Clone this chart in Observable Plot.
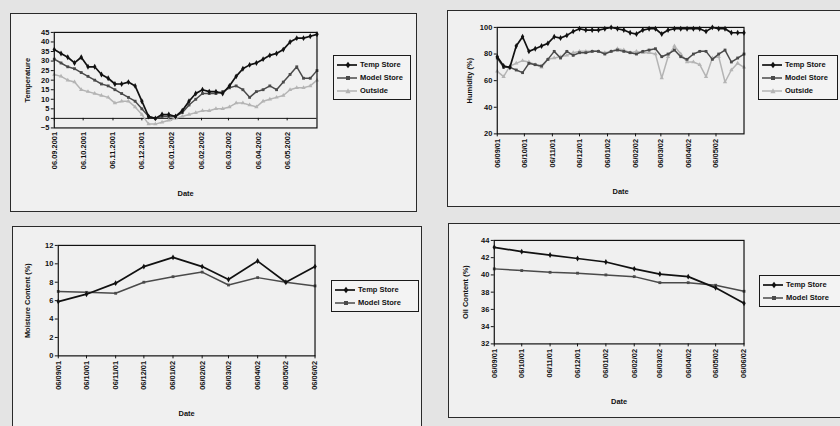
<!DOCTYPE html>
<html><head><meta charset="utf-8">
<script src="https://cdn.jsdelivr.net/npm/d3@7"></script>
<script src="https://cdn.jsdelivr.net/npm/@observablehq/plot@0.6"></script>
<style>
body{margin:0;background:#e6e6e6;}
#wrap{position:relative;width:840px;height:426px;overflow:hidden;background:#e4e4e4;font-family:"Liberation Sans",Arial,sans-serif;}
.panel{position:absolute;border:1.3px solid #2a2a2a;background:#f0f0f0;box-sizing:border-box;}
.panel svg.chart{position:absolute;left:0;top:0;}
.legend{position:absolute;border:1px solid #1a1a1a;background:#f3f3f3;box-sizing:border-box;font-size:7.5px;color:#111;font-weight:bold;}
.legend .row{display:flex;align-items:center;height:13px;padding-left:3px;}
.legend .row span{margin-left:3px;white-space:nowrap;}
</style></head>
<body><div id="wrap"></div>
<script>
// ---------- data ----------
const weekDates = ["2001-09-06","2001-09-13","2001-09-20","2001-09-27","2001-10-04","2001-10-11","2001-10-18","2001-10-25",
 "2001-11-01","2001-11-08","2001-11-15","2001-11-22","2001-11-29","2001-12-06","2001-12-13","2001-12-20","2001-12-27",
 "2002-01-03","2002-01-10","2002-01-17","2002-01-24","2002-01-31","2002-02-07","2002-02-14","2002-02-21","2002-02-28",
 "2002-03-07","2002-03-14","2002-03-21","2002-03-28","2002-04-04","2002-04-11","2002-04-18","2002-04-25",
 "2002-05-02","2002-05-09","2002-05-16","2002-05-23","2002-05-30","2002-06-06"];
const monthDates = ["2001-09-06","2001-10-06","2001-11-06","2001-12-06","2002-01-06","2002-02-06","2002-03-06","2002-04-06","2002-05-06","2002-06-06"];

const seriesNames = ["Temp Store","Model Store","Outside"];

// Panel 1: temperature
const tempTemp    = [36,34,32,29,32,27,27,23,21,18,18,19,17,9,1,0,2,2,1,4,9,13,15,14,14,13,17,22,26,28,29,31,33,34,36,40,42,42,43,44];
const tempModel   = [31,29,27,26,24,22,20,18,17,15,13,11,9,5,1,0,1,1,1,3,7,10,13,13,13,14,16,17,15,11,14,15,17,15,19,23,27,21,21,25];
const tempOutside = [23,22,20,19,15,14,13,12,11,8,9,9,6,2,-3,-3,-2,-1,0,1,2,3,4,4,5,5,6,8,8,7,6,9,10,11,12,15,16,16,17,20];
const tempTickDates = monthDates.slice(0,9);
const tempTickLabels = ["06.09.2001","06.10.2001","06.11.2001","06.12.2001","06.01.2002","06.02.2002","06.03.2002","06.04.2002","06.05.2002"];
const tempYTicks = [-5,0,5,10,15,20,25,30,35,40,45];

// Panel 2: humidity
const humTemp    = [78,71,70,86,93,82,84,86,88,93,92,94,97,99,98,98,98,99,100,99,98,96,95,98,99,99,95,98,99,99,99,99,99,97,100,99,99,96,96,96];
const humModel   = [77,70,70,68,66,73,72,71,76,82,77,82,79,81,81,82,82,80,82,83,82,81,80,82,83,84,78,80,83,78,76,80,82,82,76,80,83,74,77,80];
const humOutside = [67,63,71,73,75,74,72,70,76,77,78,79,81,82,82,82,82,81,82,84,83,81,82,81,81,80,62,78,86,80,74,74,72,63,77,78,59,68,73,70];
const humTickDates = monthDates.slice(0,9);
const humTickLabels = ["06/09/01","06/10/01","06/11/01","06/12/01","06/01/02","06/02/02","06/03/02","06/04/02","06/05/02"];
const humYTicks = [20,40,60,80,100];

// Panel 3: moisture content
const moistTemp  = [5.9,6.7,7.9,9.7,10.7,9.7,8.3,10.3,8.0,9.7];
const moistModel = [7.0,6.9,6.8,8.0,8.6,9.1,7.7,8.5,8.0,7.6];
const monthTickLabels = ["06/09/01","06/10/01","06/11/01","06/12/01","06/01/02","06/02/02","06/03/02","06/04/02","06/05/02","06/06/02"];
const moistYTicks = [0,2,4,6,8,10,12];

// Panel 4: oil content
const oilTemp  = [43.2,42.7,42.3,41.9,41.5,40.7,40.1,39.8,38.5,36.7];
const oilModel = [40.7,40.5,40.3,40.2,40.0,39.8,39.1,39.1,38.8,38.1];
const oilYTicks = [32,34,36,38,40,42,44];

// ---------- styles ----------
const seriesStyle = {
  "Temp Store":  {stroke:"#111", width:1.7, symbol:"diamond", r:1.8},
  "Model Store": {stroke:"#4a4a4a", width:1.5, symbol:"square", r:1.6},
  "Outside":     {stroke:"#b4b4b4", width:1.5, symbol:"triangle", r:1.6}
};
const parse = d3.utcParse("%Y-%m-%d");
const wrap = document.getElementById("wrap");

function makePanel(o){
  const div = document.createElement("div");
  div.className = "panel";
  Object.assign(div.style,{left:o.box[0]+"px",top:o.box[1]+"px",width:o.box[2]+"px",height:o.box[3]+"px"});
  wrap.appendChild(div);
  const rows = [];
  o.series.forEach(s => s.values.forEach((v,i)=>rows.push({date:parse(o.dates[i]), value:v, name:s.name})));
  const labelMap = new Map(o.tickDates.map((d,i)=>[+parse(d), o.tickLabels[i]]));
  const ticks = o.tickDates.map(parse);
  const marks = [];
  if (o.zeroLine) {
    marks.push(Plot.ruleY([0],{stroke:"#111",strokeWidth:1}));
    marks.push(Plot.ruleX(ticks,{x:d=>d, y1:0, y2:-1.3, stroke:"#111"}));
  }
  [...o.series].reverse().forEach(s=>{
    const st = seriesStyle[s.name];
    const data = rows.filter(r=>r.name===s.name);
    marks.push(Plot.line(data,{x:"date",y:"value",stroke:st.stroke,strokeWidth:st.width}));
    marks.push(Plot.dot(data,{x:"date",y:"value",symbol:()=>st.symbol,fill:st.stroke,stroke:"none",r:st.r}));
  });
  marks.push(Plot.frame({stroke:"#111",strokeWidth:1.2}));
  marks.push(Plot.axisX({ticks, tickFormat:d=>labelMap.get(+d), tickRotate:-90, tickSize:o.zeroLine?0:3,
     tickPadding:o.zeroLine?4:2, label:"Date", labelAnchor:"center", labelArrow:"none", labelOffset:o.xLabelOffset, fontWeight:"bold"}));
  marks.push(Plot.axisY({ticks:o.yTicks, tickSize:3, tickPadding:2, label:o.yLabel, labelAnchor:"center", labelArrow:"none",
     labelOffset:o.yLabelOffset, fontWeight:"bold"}));
  const chart = Plot.plot({
    width:o.box[2], height:o.box[3],
    marginLeft:o.margins[0], marginRight:o.margins[1], marginTop:o.margins[2], marginBottom:o.margins[3],
    x:{type:"utc", domain:[parse(o.dates[0]), parse(o.dates[o.dates.length-1])], axis:null},
    y:{domain:o.yDomain, axis:null},
    style:{fontSize:"7.5px", fontFamily:"'Liberation Sans',Arial,sans-serif", background:"transparent", color:"#111", overflow:"visible"},
    marks
  });
  chart.classList.add("chart");
  div.appendChild(chart);
  // legend
  const lg = document.createElement("div");
  lg.className = "legend";
  Object.assign(lg.style,{left:o.legend[0]+"px",top:o.legend[1]+"px",width:o.legend[2]+"px",height:o.legend[3]+"px",
    paddingTop:o.legend[4]+"px"});
  o.series.forEach(s=>{
    const st = seriesStyle[s.name];
    const row = document.createElement("div"); row.className="row";
    const sym = st.symbol==="diamond" ? '<path d="M11 0.8L13.4 4L11 7.2L8.6 4Z" fill="'+st.stroke+'"/>'
      : st.symbol==="square" ? '<rect x="9" y="2" width="4" height="4" fill="'+st.stroke+'"/>'
      : '<path d="M11 1.2L13.6 6.2L8.4 6.2Z" fill="'+st.stroke+'"/>';
    row.innerHTML = '<svg width="20" height="8"><line x1="0" y1="4" x2="20" y2="4" stroke="'+st.stroke+'" stroke-width="'+st.width+'"/>'+sym+'</svg><span>'+s.name+'</span>';
    lg.appendChild(row);
  });
  div.appendChild(lg);
}

makePanel({box:[10,13,407,199], margins:[43,100,18,85], dates:weekDates,
  series:[{name:seriesNames[0],values:tempTemp},{name:seriesNames[1],values:tempModel},{name:seriesNames[2],values:tempOutside}],
  tickDates:tempTickDates, tickLabels:tempTickLabels, yTicks:tempYTicks, yDomain:[-5,45], yLabel:"Temperature",
  zeroLine:true, xLabelOffset:68, yLabelOffset:30, legend:[322,41,78,45,2]});

makePanel({box:[447,10,400,197], margins:[49,103,16,74], dates:weekDates,
  series:[{name:seriesNames[0],values:humTemp},{name:seriesNames[1],values:humModel},{name:seriesNames[2],values:humOutside}],
  tickDates:humTickDates, tickLabels:humTickLabels, yTicks:humYTicks, yDomain:[20,100], yLabel:"Humidity (%)",
  zeroLine:false, xLabelOffset:60, yLabelOffset:31, legend:[310,44,80,45,2]});

makePanel({box:[12,226,410,210], margins:[45,107,18,81], dates:monthDates,
  series:[{name:seriesNames[0],values:moistTemp},{name:seriesNames[1],values:moistModel}],
  tickDates:monthDates, tickLabels:monthTickLabels, yTicks:moistYTicks, yDomain:[0,12], yLabel:"Moisture Content (%)",
  zeroLine:false, xLabelOffset:60, yLabelOffset:34, legend:[318,53,88,32,2]});

makePanel({box:[448,223,400,195], margins:[45,104,16,75], dates:monthDates,
  series:[{name:seriesNames[0],values:oilTemp},{name:seriesNames[1],values:oilModel}],
  tickDates:monthDates, tickLabels:monthTickLabels, yTicks:oilYTicks, yDomain:[32,44], yLabel:"Oil Content (%)",
  zeroLine:false, xLabelOffset:60, yLabelOffset:32, legend:[310,51,82,32,2]});
</script></body></html>
